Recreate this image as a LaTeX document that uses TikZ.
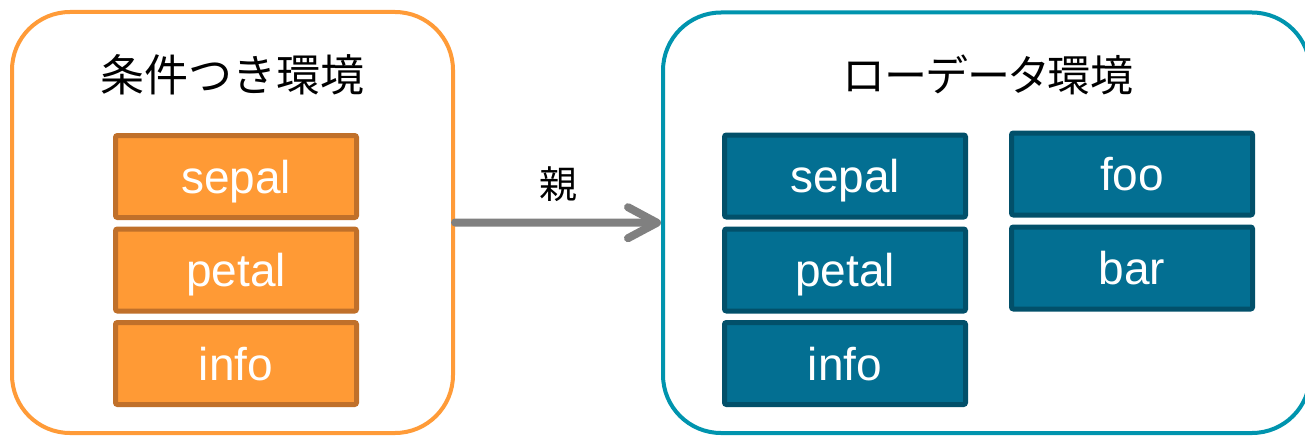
\documentclass[tikz,border=0pt]{standalone}
\usepackage{fontspec}
\setmainfont{Liberation Sans}
\newfontfamily\jpfont{Noto Sans CJK JP}
\newfontfamily\jpprop[RawFeature=+palt]{Noto Sans CJK JP}
\usetikzlibrary{arrows.meta}

\definecolor{orangeline}{HTML}{FF9B38}
\definecolor{orangefill}{HTML}{FF9A35}
\definecolor{orangeedge}{HTML}{C0702A}
\definecolor{tealline}{HTML}{0094AE}
\definecolor{tealfill}{HTML}{036F92}
\definecolor{tealedge}{HTML}{02506A}
\definecolor{arrowgray}{HTML}{808080}

\tikzset{
  envbox/.style={draw, line width=4pt, rounded corners=58pt, fill=white},
  field/.style={draw, line width=5pt, rounded corners=2pt,
    minimum width=241pt, minimum height=82pt, inner sep=0pt,
    text=white, text height=33pt, text depth=0pt,
    font=\fontsize{46}{50}\selectfont},
  orangefield/.style={field, fill=orangefill, draw=orangeedge},
  tealfield/.style={field, fill=tealfill, draw=tealedge},
  title/.style={anchor=base, inner sep=0pt, text=black}
}

\begin{document}
\begin{tikzpicture}[x=1pt, y=-1pt]
  \useasboundingbox (0,0) rectangle (1305,436);

  % environments
  \node[envbox, draw=orangeline, minimum width=441pt, minimum height=421pt]
    (cond) at (232.5,222.5) {};
  \node[envbox, draw=tealline, minimum width=647pt, minimum height=420.5pt]
    (raw) at (986.5,222.75) {};

  % titles
  \node[title, font=\jpfont\fontsize{44}{48}\selectfont] (condtitle) at (232.5,91) {条件つき環境};
  \node[title, font=\jpprop\fontsize{43}{48}\selectfont] (rawtitle) at (988,91) {ローデータ環境};

  % fields of the conditional environment
  \node[orangefield] (csepal) at (236,176.5) {sepal};
  \node[orangefield] (cpetal) at (236,270) {petal};
  \node[orangefield] (cinfo)  at (236,363.5) {info};

  % fields of the raw data environment
  \node[tealfield] (rsepal) at (845,176) {sepal};
  \node[tealfield] (rpetal) at (845,270) {petal};
  \node[tealfield] (rinfo)  at (845,363.5) {info};
  \node[tealfield] (rfoo)   at (1132,174) {foo};
  \node[tealfield] (rbar)   at (1132,268) {bar};

  % parent link
  \draw[arrowgray, line width=8pt, line cap=round, line join=round,
        -{Straight Barb[length=29pt, width=31pt, line cap=round, line join=round]}]
    (cond.east) -- (raw.west)
    node[midway, above=14pt, text=black, font=\jpfont\fontsize{38}{42}\selectfont] (parentlabel) {親};
\end{tikzpicture}
\end{document}
